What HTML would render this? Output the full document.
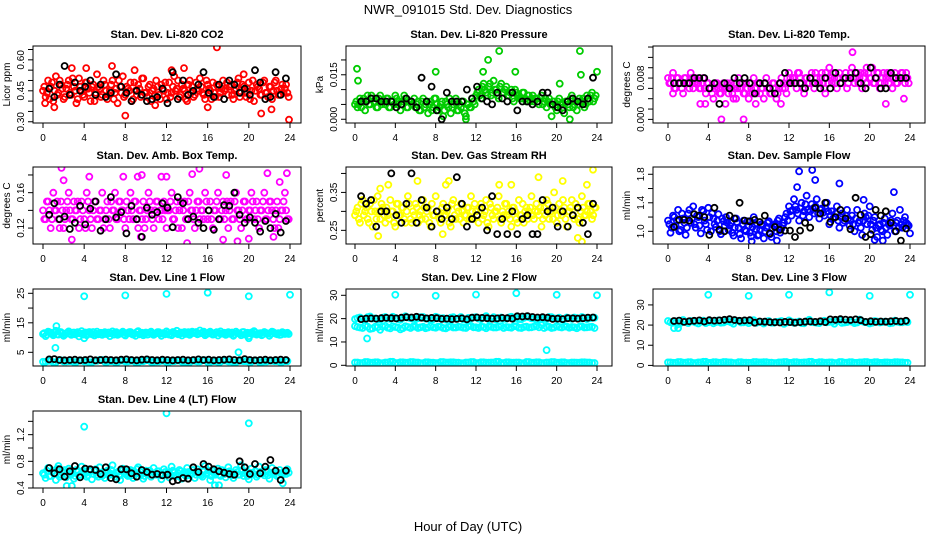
<!DOCTYPE html>
<html><head><meta charset="utf-8"><title>NWR_091015 Std. Dev. Diagnostics</title>
<style>
html,body{margin:0;padding:0;background:#fff;}
svg{display:block;font-family:"Liberation Sans",Arial,sans-serif;}
</style></head>
<body>
<svg id="chart" width="936" height="540" viewBox="0 0 936 540" xmlns="http://www.w3.org/2000/svg">
<text x="468" y="14" text-anchor="middle" font-size="13">NWR_091015  Std. Dev. Diagnostics</text>
<text x="468" y="531" text-anchor="middle" font-size="13">Hour of Day (UTC)</text>
</svg>
<script>
// ---- data ----
const xTicks = [0,4,8,12,16,20,24];
const xTickLabels = ['0','4','8','12','16','20','24'];

const co2Values = [0.45,0.42,0.50,0.47,0.40,0.52,0.44,0.48,0.41,0.46,0.50,0.43,0.47,0.39,0.51,0.45,0.42,0.49,0.44,0.47,0.40,0.53,0.46,0.43,
0.48,0.41,0.45,0.50,0.44,0.39,0.47,0.52,0.43,0.46,0.49,0.41,0.45,0.48,0.42,0.51,0.44,0.47,0.40,0.46,0.50,0.43,0.48,0.45,
0.41,0.49,0.44,0.52,0.46,0.42,0.48,0.45,0.40,0.50,0.47,0.43,0.46,0.51,0.44,0.41,0.48,0.45,0.49,0.42,0.47,0.44,0.50,0.46,
0.43,0.48,0.41,0.46,0.51,0.44,0.47,0.42,0.49,0.45,0.40,0.48,0.46,0.43,0.50,0.44,0.47,0.41,0.49,0.45,0.43,0.48,0.46,0.44];
const co2ValuesB = [0.47,0.44,0.41,0.49,0.45,0.43,0.50,0.46,0.42,0.48,0.44,0.51,0.45,0.41,0.47,0.43,0.49,0.46,0.40,0.48,0.44,0.47,0.42,0.50,
0.45,0.43,0.48,0.41,0.46,0.50,0.44,0.42,0.47,0.45,0.40,0.49,0.43,0.46,0.51,0.44,0.42,0.48,0.45,0.43,0.47,0.41,0.46,0.49,
0.44,0.42,0.47,0.45,0.50,0.43,0.46,0.41,0.48,0.44,0.42,0.49,0.45,0.47,0.43,0.50,0.46,0.41,0.44,0.48,0.42,0.46,0.45,0.49,
0.47,0.43,0.45,0.49,0.42,0.48,0.44,0.46,0.41,0.50,0.45,0.47,0.43,0.49,0.44,0.42,0.47,0.45,0.50,0.43,0.46,0.44,0.48,0.42];
const co2Outliers = [[0.2,0.39],[1.1,0.37],[2.8,0.56],[4.2,0.56],[6.7,0.57],[8.0,0.33],[8.9,0.55],[10.9,0.38],[13.7,0.56],[16.9,0.66],[16.0,0.37],[21.2,0.34],[22.2,0.36],[23.9,0.31],[12.5,0.55],[19.5,0.53]];
const co2Black = [0.46,0.42,0.48,0.57,0.43,0.49,0.45,0.47,0.50,0.43,0.48,0.42,0.44,0.53,0.47,0.44,0.40,0.45,0.43,0.40,0.41,0.42,0.46,0.39,0.54,0.41,0.50,0.43,0.45,0.48,0.54,0.44,0.42,0.48,0.41,0.50,0.48,0.44,0.46,0.43,0.55,0.49,0.41,0.42,0.54,0.43,0.51];

const presValues = [0.005,0.004,0.007,0.006,0.003,0.008,0.005,0.007,0.006,0.004,0.008,0.006,0.005,0.007,0.004,0.006,0.008,0.005,0.003,0.006,0.007,0.004,0.006,0.005,
0.004,0.006,0.003,0.007,0.005,0.002,0.006,0.004,0.007,0.003,0.005,0.001,0.006,0.004,0.002,0.005,0.007,0.003,0.004,0.006,0.001,0.005,0.004,0.006,
0.008,0.010,0.007,0.012,0.009,0.011,0.008,0.013,0.010,0.007,0.012,0.009,0.011,0.008,0.010,0.006,0.009,0.008,0.007,0.009,0.006,0.008,0.007,0.006,
0.007,0.005,0.008,0.006,0.004,0.007,0.005,0.006,0.003,0.007,0.005,0.002,0.006,0.004,0.008,0.005,0.003,0.007,0.006,0.004,0.008,0.006,0.009,0.007];
const presValuesB = [0.006,0.005,0.004,0.007,0.006,0.005,0.008,0.006,0.004,0.007,0.005,0.006,0.007,0.004,0.006,0.005,0.007,0.006,0.005,0.008,0.004,0.006,0.005,0.007,
0.005,0.003,0.006,0.004,0.006,0.005,0.003,0.007,0.005,0.004,0.006,0.003,0.005,0.007,0.004,0.006,0.003,0.005,0.006,0.002,0.005,0.004,0.007,0.005,
0.009,0.008,0.011,0.010,0.008,0.012,0.009,0.010,0.008,0.011,0.009,0.010,0.008,0.009,0.007,0.010,0.008,0.007,0.009,0.007,0.008,0.006,0.008,0.007,
0.006,0.007,0.005,0.007,0.006,0.005,0.006,0.004,0.006,0.005,0.004,0.006,0.005,0.007,0.004,0.006,0.005,0.006,0.007,0.005,0.007,0.008,0.006,0.008];
const presOutliers = [[0.3,0.013],[0.2,0.017],[12.7,0.016],[13.2,0.020],[14.3,0.023],[15.9,0.016],[22.3,0.023],[22.4,0.015],[24.0,0.016],[11.0,0.000],[19.5,0.001],[21.3,0.000],[8.0,0.016],[20.3,0.012]];
const presBlack = [0.006,0.006,0.007,0.007,0.006,0.006,0.006,0.004,0.005,0.007,0.006,0.004,0.014,0.006,0.011,0.003,0.000,0.009,0.006,0.006,0.006,0.010,0.007,0.011,0.007,0.006,0.005,0.009,0.007,0.006,0.009,0.003,0.006,0.006,0.005,0.006,0.009,0.009,0.005,0.004,0.003,0.006,0.007,0.006,0.005,0.007,0.014];

const ltempValues = [0.008,0.007,0.009,0.006,0.008,0.007,0.005,0.008,0.007,0.009,0.006,0.008,0.007,0.006,0.008,0.005,0.007,0.006,0.004,0.007,0.006,0.005,0.007,0.006,
0.005,0.007,0.006,0.004,0.008,0.006,0.005,0.007,0.004,0.006,0.008,0.005,0.007,0.006,0.004,0.008,0.006,0.005,0.007,0.004,0.006,0.008,0.007,0.005,
0.009,0.007,0.008,0.006,0.009,0.007,0.005,0.008,0.007,0.009,0.006,0.008,0.007,0.009,0.006,0.008,0.010,0.007,0.008,0.006,0.009,0.007,0.008,0.006,
0.008,0.010,0.007,0.009,0.008,0.006,0.009,0.007,0.008,0.010,0.007,0.009,0.006,0.008,0.007,0.009,0.008,0.006,0.009,0.007,0.008,0.009,0.007,0.008];
const ltempValuesB = [0.007,0.008,0.006,0.008,0.007,0.006,0.008,0.007,0.006,0.008,0.007,0.007,0.006,0.007,0.006,0.007,0.006,0.005,0.006,0.007,0.005,0.006,0.006,0.007,
0.006,0.005,0.007,0.006,0.006,0.007,0.005,0.006,0.007,0.005,0.006,0.007,0.005,0.006,0.007,0.006,0.005,0.007,0.006,0.005,0.007,0.006,0.006,0.007,
0.008,0.008,0.007,0.009,0.008,0.006,0.008,0.007,0.008,0.007,0.009,0.007,0.008,0.007,0.009,0.007,0.008,0.009,0.007,0.008,0.007,0.008,0.009,0.007,
0.009,0.008,0.008,0.007,0.009,0.008,0.007,0.009,0.008,0.007,0.008,0.009,0.007,0.009,0.008,0.007,0.009,0.008,0.007,0.008,0.009,0.008,0.009,0.007];
const ltempOutliers = [[3.2,0.003],[3.7,0.003],[5.3,0.000],[5.7,0.003],[7.5,0.000],[6.5,0.004],[8.7,0.003],[11.2,0.003],[18.3,0.013],[19.7,0.010],[21.6,0.003],[23.4,0.004],[15.6,0.005],[0.5,0.005]];
const ltempBlack = [0.007,0.007,0.007,0.007,0.008,0.008,0.008,0.006,0.007,0.003,0.007,0.006,0.008,0.007,0.008,0.007,0.005,0.007,0.007,0.006,0.005,0.007,0.009,0.007,0.007,0.007,0.006,0.008,0.007,0.006,0.008,0.006,0.009,0.007,0.008,0.008,0.009,0.007,0.006,0.010,0.008,0.006,0.006,0.009,0.008,0.008,0.008];

const btempValues = [0.14,0.13,0.15,0.12,0.16,0.14,0.13,0.15,0.12,0.14,0.16,0.13,0.15,0.14,0.12,0.15,0.13,0.16,0.14,0.12,0.15,0.13,0.14,0.16,
0.13,0.15,0.12,0.14,0.16,0.13,0.15,0.14,0.12,0.14,0.16,0.13,0.15,0.12,0.14,0.15,0.13,0.16,0.14,0.12,0.15,0.13,0.14,0.15,
0.12,0.14,0.16,0.13,0.15,0.14,0.12,0.15,0.13,0.16,0.14,0.12,0.15,0.13,0.14,0.16,0.13,0.15,0.12,0.14,0.16,0.13,0.15,0.14,
0.12,0.15,0.13,0.16,0.14,0.12,0.15,0.13,0.14,0.16,0.13,0.15,0.12,0.14,0.16,0.13,0.15,0.14,0.12,0.15,0.13,0.14,0.16,0.13];
const btempValuesB = [0.13,0.15,0.14,0.13,0.14,0.15,0.12,0.14,0.13,0.15,0.14,0.13,0.14,0.15,0.13,0.14,0.12,0.15,0.13,0.14,0.15,0.13,0.14,0.12,
0.14,0.13,0.15,0.14,0.13,0.15,0.14,0.13,0.15,0.13,0.14,0.15,0.13,0.14,0.13,0.12,0.14,0.15,0.13,0.14,0.15,0.14,0.13,0.14,
0.14,0.15,0.13,0.14,0.12,0.15,0.14,0.13,0.15,0.14,0.13,0.14,0.15,0.14,0.13,0.15,0.14,0.13,0.14,0.15,0.13,0.14,0.13,0.15,
0.14,0.13,0.15,0.14,0.13,0.14,0.15,0.13,0.14,0.15,0.14,0.13,0.14,0.15,0.13,0.14,0.15,0.13,0.14,0.12,0.14,0.15,0.14,0.13];
const btempOutliers = [[1.8,0.188],[2.0,0.174],[4.5,0.178],[7.8,0.178],[9.2,0.178],[9.6,0.180],[11.5,0.178],[12.0,0.178],[14.5,0.181],[15.2,0.187],[17.8,0.180],[21.8,0.182],[23.7,0.182],[23.0,0.172],[2.8,0.107],[9.5,0.110],[17.5,0.107],[18.9,0.105],[20.0,0.108],[14.0,0.103],[22.4,0.110]];
const btempBlack = [0.135,0.148,0.130,0.133,0.119,0.126,0.145,0.124,0.142,0.150,0.117,0.130,0.155,0.132,0.138,0.114,0.145,0.130,0.110,0.143,0.135,0.138,0.148,0.143,0.121,0.155,0.148,0.130,0.133,0.126,0.120,0.140,0.118,0.130,0.146,0.145,0.160,0.135,0.126,0.132,0.126,0.116,0.128,0.120,0.136,0.115,0.128];

const rhValues = [0.29,0.31,0.27,0.33,0.30,0.28,0.32,0.26,0.30,0.34,0.28,0.31,0.27,0.29,0.33,0.30,0.26,0.32,0.29,0.31,0.27,0.34,0.28,0.30,
0.32,0.27,0.30,0.33,0.28,0.31,0.26,0.29,0.34,0.30,0.27,0.32,0.29,0.31,0.26,0.33,0.28,0.30,0.32,0.27,0.29,0.31,0.34,0.28,
0.30,0.27,0.32,0.29,0.33,0.26,0.31,0.28,0.30,0.34,0.27,0.29,0.32,0.30,0.26,0.31,0.28,0.33,0.29,0.27,0.31,0.30,0.34,0.28,
0.32,0.29,0.26,0.31,0.33,0.28,0.30,0.35,0.27,0.32,0.29,0.31,0.26,0.30,0.33,0.28,0.31,0.27,0.34,0.29,0.30,0.32,0.28,0.31];
const rhValuesB = [0.30,0.28,0.32,0.29,0.31,0.27,0.30,0.33,0.28,0.30,0.32,0.29,0.31,0.28,0.30,0.27,0.32,0.29,0.31,0.28,0.30,0.32,0.27,0.29,
0.31,0.29,0.28,0.31,0.30,0.27,0.32,0.29,0.30,0.28,0.31,0.29,0.30,0.27,0.32,0.29,0.31,0.28,0.30,0.29,0.31,0.28,0.30,0.32,
0.29,0.31,0.28,0.30,0.27,0.32,0.29,0.30,0.31,0.28,0.30,0.32,0.29,0.28,0.31,0.30,0.27,0.29,0.32,0.30,0.28,0.31,0.29,0.30,
0.30,0.31,0.28,0.29,0.32,0.30,0.28,0.31,0.29,0.30,0.33,0.28,0.30,0.31,0.29,0.32,0.28,0.30,0.31,0.29,0.32,0.30,0.29,0.31];
const rhOutliers = [[2.5,0.36],[3.3,0.37],[6.2,0.38],[9.0,0.37],[9.3,0.38],[14.3,0.37],[15.5,0.37],[18.2,0.39],[20.6,0.38],[23.6,0.41],[23.0,0.37],[22.1,0.23],[22.5,0.22],[2.3,0.235],[8.7,0.24]];
const rhBlack = [0.34,0.32,0.33,0.26,0.30,0.30,0.40,0.29,0.27,0.32,0.40,0.27,0.33,0.31,0.26,0.30,0.28,0.31,0.28,0.39,0.32,0.26,0.28,0.29,0.31,0.25,0.34,0.24,0.28,0.24,0.30,0.24,0.28,0.29,0.24,0.24,0.33,0.30,0.31,0.26,0.30,0.26,0.29,0.31,0.27,0.24,0.32];

const flowValues = [1.15,0.98,1.22,1.08,1.30,1.02,1.18,0.95,1.25,1.12,1.35,1.05,1.20,0.97,1.28,1.10,1.33,1.00,1.18,1.06,1.24,0.96,1.14,1.20,
1.02,1.12,0.94,1.18,1.05,0.90,1.15,1.00,1.08,0.93,1.20,1.03,0.95,1.10,0.90,1.05,1.14,0.92,1.08,1.00,1.18,1.04,1.12,1.25,
1.35,1.22,1.45,1.30,1.15,1.40,1.28,1.50,1.20,1.38,1.25,1.45,1.18,1.32,1.22,1.40,1.10,1.28,1.20,1.35,1.05,1.25,1.15,1.30,
1.08,1.22,1.00,1.30,1.15,0.95,1.25,1.10,1.35,1.02,1.20,0.92,1.10,1.00,1.18,0.95,1.08,1.25,1.00,1.15,1.30,1.05,1.20,1.10];
const flowValuesB = [1.10,1.05,1.20,1.15,1.00,1.25,1.12,1.05,1.30,1.18,1.10,1.22,1.08,1.30,1.15,1.02,1.20,1.25,1.10,1.15,1.00,1.18,1.08,1.12,
1.08,0.98,1.05,1.12,0.96,1.10,1.02,1.14,0.98,1.06,1.10,0.94,1.02,1.08,1.00,1.12,0.96,1.04,1.10,1.15,0.98,1.08,1.20,1.15,
1.28,1.30,1.35,1.25,1.32,1.22,1.38,1.30,1.28,1.32,1.35,1.25,1.30,1.26,1.32,1.28,1.22,1.18,1.25,1.15,1.20,1.12,1.22,1.18,
1.15,1.10,1.18,1.12,1.05,1.15,1.20,1.22,1.10,1.15,1.05,1.08,1.02,1.12,1.05,1.10,1.15,1.08,1.12,1.05,1.10,1.15,1.12,1.08];
const flowOutliers = [[13.0,1.84],[14.3,1.86],[14.6,1.72],[17.0,1.67],[12.8,1.62],[22.4,1.55],[19.4,1.44],[8.3,0.86],[10.8,0.87],[20.5,0.88],[24.0,0.97],[21.3,0.87]];
const flowBlack = [1.06,1.16,1.16,1.15,1.24,1.22,1.20,0.95,1.33,1.02,1.00,1.22,1.18,1.40,1.15,1.14,1.16,1.13,1.22,0.97,1.06,1.02,1.01,1.01,0.92,1.01,1.12,1.05,1.33,1.25,1.40,1.13,1.20,1.30,1.18,1.03,1.47,1.23,0.92,0.96,1.30,1.22,1.28,1.12,1.00,0.87,1.04];

const line1High = [11.2,10.5,12.0,11.6,10.8,12.3,11.0,11.8,10.6,11.4,12.1,10.9,11.7,11.3,10.4,12.2,11.5,10.8,11.9,11.1,10.7,12.0,11.4,10.9,
11.8,11.2,10.5,12.1,11.6,10.9,11.3,12.0,10.7,11.5,11.9,11.0,10.6,12.2,11.4,10.8,11.7,11.1,12.0,10.9,11.5,11.8,10.6,11.3,
12.1,11.0,10.8,11.6,12.3,11.2,10.7,11.9,11.4,10.9,12.0,11.5,11.1,12.4,11.7,10.8,11.3,12.0,11.0,11.6,10.7,12.1,11.4,10.9,
11.8,11.2,10.6,12.0,11.5,10.8,11.9,11.1,10.5,11.7,12.2,11.0,11.4,10.8,11.9,11.3,10.6,12.0,11.5,11.1,10.9,11.8,11.2,11.6];
const line1HighB = [11.5,11.0,11.8,11.2,11.6,11.1,11.9,11.4,11.0,11.7,11.3,11.6,11.1,11.8,11.4,11.0,11.7,11.2,11.5,11.9,11.3,11.1,11.6,11.4,
11.2,11.7,11.4,11.0,11.8,11.3,11.6,11.1,11.5,11.8,11.2,11.4,11.9,11.1,11.6,11.3,11.0,11.7,11.4,11.2,11.8,11.3,11.5,11.1,
11.6,11.3,11.9,11.4,11.1,11.7,11.5,11.2,11.8,11.4,11.6,11.9,11.3,11.5,12.0,11.2,11.7,11.4,11.1,11.8,11.5,11.3,11.6,11.2,
11.4,11.7,11.1,11.5,11.3,11.8,11.0,11.6,11.4,11.2,11.7,11.3,11.5,11.1,11.6,11.4,11.2,11.8,11.3,11.5,11.0,11.6,11.4,11.2];
const line1Low = [1.8,2.1,1.6,2.3,1.9,2.0,1.7,2.2,1.9,1.6,2.1,2.4,1.8,2.0,1.7,2.2,1.9,2.1,1.6,2.0,2.3,1.8,1.9,2.1,1.7,2.0,2.2,1.8,1.6,2.1,1.9,2.3,1.7,2.0,1.8,2.2,1.9,1.6,2.1,2.0,1.8,2.2,1.7,1.9,2.1,2.0,1.8,2.0];
const line1Outliers = [[4.0,24],[8.0,24.3],[12.0,24.8],[16.0,25.2],[20.0,24],[24.0,24.5],[1.2,6.5],[1.3,13.9],[19.0,5],[20.0,9.8],[4.0,9.8]];
const line1Black = [2.6,2.7,2.4,2.3,2.4,2.5,2.3,2.4,2.6,2.3,2.4,2.5,2.4,2.3,2.5,2.6,2.4,2.3,2.5,2.6,2.4,2.3,2.5,2.4,2.3,2.4,2.5,2.3,2.4,2.6,2.4,2.5,2.3,2.4,2.5,2.6,2.4,2.3,2.7,2.4,2.3,2.4,2.5,2.3,2.4,2.5,2.4];

const line2High = [19.8,20.5,19.4,20.9,20.1,19.6,20.7,19.9,20.3,19.5,21.0,20.2,19.7,20.6,20.0,19.4,20.8,20.1,19.6,20.4,19.9,20.7,19.5,20.2,20.6,19.8,21.1,20.0,19.6,20.5,19.9,20.8,20.3,19.7,20.9,20.1,19.5,20.4,19.8,20.6,20.0,19.7,20.5,19.9,20.2,20.7,19.8,20.3];
const line2HighB = [20.2,19.9,20.6,20.0,19.7,20.4,20.1,20.8,19.8,20.3,20.5,19.9,20.2,20.7,20.0,19.8,20.4,20.2,19.9,20.6,20.1,19.7,20.3,20.5,20.0,20.4,19.8,20.6,20.2,19.9,20.5,20.1,19.8,20.3,20.6,20.0,20.2,19.9,20.7,20.1,20.4,19.8,20.2,20.5,20.0,20.3,20.1,20.4];
const line2Mid = [16.8,16.2,17.0,15.6,16.5,15.2,16.9,15.8,16.4,15.4,16.7,16.0,16.6,16.3,15.9,16.8,16.1,16.5,15.8,16.7,16.2,16.4,16.0,16.9,16.3,16.6,15.9,16.5,16.2,16.8,16.4,16.1,16.7,16.0,16.6,16.3,16.9,17.2,16.5,16.0,16.8,16.2,16.6,16.4,15.9,16.7,16.3,16.5];
const line2MidB = [16.4,16.0,16.6,15.8,16.3,16.5,16.1,16.7,16.2,15.9,16.4,16.6,16.0,16.5,16.2,16.3,16.6,16.0,16.4,16.2,16.5,16.1,16.7,16.3,16.0,16.4,16.6,16.2,16.5,16.0,16.3,16.7,16.1,16.4,16.2,16.6,16.3,16.0,16.5,16.2,16.4,16.6,16.1,16.3,16.5,16.2,16.4,16.0];
const line2Low = [1.2,1.0,1.4,1.1,1.3,0.9,1.2,1.5,1.0,1.3,1.1,1.4,1.2,0.9,1.3,1.1,1.0,1.4,1.2,1.3,1.1,0.9,1.2,1.4,1.0,1.3,1.1,1.2,1.5,1.0,1.3,1.1,1.2,0.9,1.4,1.1,1.3,1.0,1.2,1.4,1.1,1.3,1.0,1.2,1.1,1.3,1.2,1.0];
const line2Outliers = [[4.0,30.2],[8.0,29.8],[12.0,30.3],[16.0,30.9],[20.0,30.2],[24.0,30],[1.2,11.5],[19.0,6.5]];
const line2Black = [19.8,20.0,20.1,20.0,20.2,20.3,20.2,20.1,20.4,20.6,20.5,20.8,20.4,20.1,20.3,20.2,19.9,20.0,19.8,19.9,20.1,19.7,20.4,20.5,20.3,20.2,20.0,20.1,20.3,20.2,20.0,21.0,20.9,21.1,20.7,20.5,20.6,20.4,19.9,20.0,19.8,20.2,20.1,20.0,20.2,20.4,20.5];

const line3High = [22.0,21.2,20.5,22.5,21.0,21.8,20.8,22.2,21.5,20.9,22.3,21.3,21.9,20.7,22.1,21.4,21.0,22.4,21.6,20.8,22.0,21.2,21.7,20.6,22.3,21.1,21.8,20.9,22.6,21.4,21.0,22.1,21.6,20.7,22.4,21.3,21.9,21.0,22.7,21.5,20.8,22.0,21.3,21.7,20.9,22.2,21.4,21.8];
const line3HighB = [21.4,21.9,21.1,21.6,22.0,21.3,21.7,21.0,21.8,21.5,21.2,21.9,21.4,22.1,21.3,21.6,21.9,21.1,21.5,21.8,21.2,21.6,22.0,21.3,21.7,21.4,21.0,21.9,21.5,21.2,21.8,21.4,21.6,22.0,21.1,21.5,21.7,21.3,21.9,21.4,21.2,21.8,21.5,21.6,21.1,21.7,21.4,21.5];
const line3Low = [1.5,1.3,1.7,1.4,1.6,1.2,1.5,1.8,1.3,1.6,1.4,1.7,1.5,1.2,1.6,1.4,1.3,1.7,1.5,1.6,1.4,1.2,1.5,1.7,1.3,1.6,1.4,1.5,1.8,1.3,1.6,1.4,1.5,1.2,1.7,1.4,1.6,1.3,1.5,1.7,1.4,1.6,1.3,1.5,1.4,1.6,1.5,1.3];
const line3Outliers = [[4.0,35],[8.0,34.5],[12.0,35],[16.0,36.2],[20.0,34.5],[24.0,35],[0.6,18.5],[1.0,18.5]];
const line3Black = [22.0,22.2,21.6,21.9,22.1,22.3,21.8,22.4,22.2,22.3,22.6,22.9,22.5,22.1,22.3,22.4,21.2,21.8,21.7,21.5,21.4,21.3,21.6,21.5,21.2,21.5,21.7,21.8,21.6,21.9,21.5,22.8,22.6,22.9,22.7,22.5,22.8,22.4,21.6,21.9,21.6,21.8,21.7,21.9,22.0,21.8,22.1];

const line4Values = [0.62,0.55,0.70,0.58,0.66,0.52,0.73,0.60,0.64,0.56,0.69,0.61,0.54,0.67,0.59,0.72,0.63,0.57,0.68,0.53,0.65,0.60,0.71,0.58,
0.55,0.66,0.62,0.74,0.57,0.64,0.52,0.69,0.61,0.58,0.67,0.55,0.63,0.71,0.59,0.54,0.66,0.62,0.57,0.70,0.60,0.65,0.53,0.68,
0.61,0.56,0.72,0.63,0.58,0.67,0.54,0.64,0.70,0.59,0.62,0.55,0.68,0.61,0.57,0.73,0.63,0.52,0.66,0.60,0.69,0.58,0.64,0.56,
0.71,0.62,0.55,0.67,0.60,0.74,0.58,0.65,0.53,0.69,0.61,0.57,0.72,0.63,0.59,0.66,0.54,0.70,0.62,0.58,0.67,0.60,0.64,0.68];
const line4ValuesB = [0.60,0.66,0.58,0.64,0.61,0.69,0.57,0.63,0.67,0.59,0.62,0.65,0.58,0.64,0.60,0.66,0.62,0.59,0.65,0.61,0.68,0.57,0.63,0.60,
0.64,0.59,0.67,0.61,0.62,0.58,0.66,0.63,0.60,0.65,0.59,0.62,0.68,0.61,0.64,0.58,0.63,0.66,0.60,0.62,0.65,0.59,0.61,0.64,
0.63,0.60,0.66,0.59,0.62,0.65,0.61,0.58,0.64,0.62,0.67,0.60,0.63,0.59,0.65,0.61,0.66,0.58,0.62,0.64,0.60,0.67,0.61,0.63,
0.65,0.59,0.62,0.64,0.60,0.66,0.62,0.58,0.63,0.61,0.65,0.60,0.64,0.62,0.67,0.59,0.63,0.61,0.66,0.60,0.62,0.64,0.61,0.63];
const line4Outliers = [[4.0,1.32],[12.0,1.52],[20.0,1.37],[2.3,0.43],[2.8,0.43],[16.7,0.44],[23.3,0.47],[17.1,0.44]];
const line4Black = [0.70,0.62,0.68,0.57,0.65,0.73,0.56,0.69,0.68,0.67,0.61,0.71,0.55,0.53,0.68,0.68,0.62,0.57,0.67,0.64,0.60,0.61,0.59,0.60,0.50,0.52,0.55,0.54,0.71,0.64,0.76,0.72,0.68,0.65,0.63,0.61,0.60,0.80,0.71,0.61,0.76,0.62,0.72,0.82,0.66,0.52,0.66];

const yTicksCo2 = [0.30,0.35,0.40,0.45,0.50,0.55,0.60,0.65];
const yLabelsCo2 = ['0.30','','','0.45','','','0.60',''];
const yTicksPres = [0,0.005,0.010,0.015,0.020];
const yLabelsPres = ['0.000','','','0.015',''];
const yTicksLtemp = [0,0.002,0.004,0.006,0.008,0.010,0.012,0.014];
const yLabelsLtemp = ['0.000','','','','0.008','','',''];
const yTicksBtemp = [0.12,0.14,0.16,0.18];
const yLabelsBtemp = ['0.12','','0.16',''];
const yTicksRh = [0.25,0.30,0.35,0.40];
const yLabelsRh = ['0.25','','0.35',''];
const yTicksFlow = [1.0,1.2,1.4,1.6,1.8];
const yLabelsFlow = ['1.0','','1.4','','1.8'];
const yTicksL1 = [5,10,15,20,25];
const yLabelsL1 = ['5','','15','','25'];
const yTicksL2 = [0,10,20,30];
const yLabelsL2 = ['0','10','20','30'];
const yTicksL3 = [0,10,20,30];
const yLabelsL3 = ['0','10','20','30'];
const yTicksL4 = [0.4,0.6,0.8,1.0,1.2,1.4];
const yLabelsL4 = ['0.4','','0.8','','1.2',''];

// ---- layout ----
const COLS = [{l:33,r:301,x0:43,x24:290},{l:346,r:612,x0:355,x24:597},{l:653,r:925,x0:668,x24:910}];
const ROWS = [46,167,289,411];
const BOX_H = 77;
const BLACK_START = 0.6, BLACK_STEP = 0.5;

const panels = [
 {name:'co2',col:0,row:0,title:'Stan. Dev. Li-820 CO2',ylab:'Licor ppm',ymin:0.294,ymax:0.667,ticks:yTicksCo2,labels:yLabelsCo2,color:'#ff0000',series:[co2Values],seriesB:[co2ValuesB],out:co2Outliers,black:co2Black},
 {name:'pressure',col:1,row:0,title:'Stan. Dev. Li-820 Pressure',ylab:'kPa',ymin:-0.00126,ymax:0.0247,ticks:yTicksPres,labels:yLabelsPres,color:'#00cc00',series:[presValues],seriesB:[presValuesB],out:presOutliers,black:presBlack},
 {name:'licor-temp',col:2,row:0,title:'Stan. Dev. Li-820 Temp.',ylab:'degrees C',ymin:-0.0007,ymax:0.0142,ticks:yTicksLtemp,labels:yLabelsLtemp,color:'#ff00ff',series:[ltempValues],seriesB:[ltempValuesB],out:ltempOutliers,black:ltempBlack},
 {name:'box-temp',col:0,row:1,title:'Stan. Dev. Amb. Box Temp.',ylab:'degrees C',ymin:0.102,ymax:0.189,ticks:yTicksBtemp,labels:yLabelsBtemp,color:'#ff00ff',series:[btempValues],seriesB:[btempValuesB],out:btempOutliers,black:btempBlack},
 {name:'gas-rh',col:1,row:1,title:'Stan. Dev. Gas Stream RH',ylab:'percent',ymin:0.214,ymax:0.417,ticks:yTicksRh,labels:yLabelsRh,color:'#ffff00',series:[rhValues],seriesB:[rhValuesB],out:rhOutliers,black:rhBlack},
 {name:'sample-flow',col:2,row:1,title:'Stan. Dev. Sample Flow',ylab:'ml/min',ymin:0.822,ymax:1.902,ticks:yTicksFlow,labels:yLabelsFlow,color:'#0000ff',series:[flowValues],seriesB:[flowValuesB],out:flowOutliers,black:flowBlack},
 {name:'line1-flow',col:0,row:2,title:'Stan. Dev. Line 1 Flow',ylab:'ml/min',ymin:0.36,ymax:26.46,ticks:yTicksL1,labels:yLabelsL1,color:'#00ffff',series:[line1High,line1Low],seriesB:[line1HighB,line1Low],out:line1Outliers,black:line1Black},
 {name:'line2-flow',col:1,row:2,title:'Stan. Dev. Line 2 Flow',ylab:'ml/min',ymin:-0.3,ymax:32.7,ticks:yTicksL2,labels:yLabelsL2,color:'#00ffff',series:[line2High,line2Mid,line2Low],seriesB:[line2HighB,line2MidB,line2Low],out:line2Outliers,black:line2Black},
 {name:'line3-flow',col:2,row:2,title:'Stan. Dev. Line 3 Flow',ylab:'ml/min',ymin:-0.3,ymax:37.9,ticks:yTicksL3,labels:yLabelsL3,color:'#00ffff',series:[line3High,line3Low],seriesB:[line3HighB,line3Low],out:line3Outliers,black:line3Black},
 {name:'line4-flow',col:0,row:3,title:'Stan. Dev. Line 4 (LT) Flow',ylab:'ml/min',ymin:0.4,ymax:1.555,ticks:yTicksL4,labels:yLabelsL4,color:'#00ffff',series:[line4Values],seriesB:[line4ValuesB],out:line4Outliers,black:line4Black}
];

const NS = 'http://www.w3.org/2000/svg';
const svg = document.getElementById('chart');
function mk(tag, attrs, parent){
  const e = document.createElementNS(NS, tag);
  for (const k in attrs) e.setAttribute(k, attrs[k]);
  (parent||svg).appendChild(e);
  return e;
}

panels.forEach(p => {
  const c = COLS[p.col];
  const top = ROWS[p.row], bot = top + BOX_H;
  const xs = h => c.x0 + (c.x24 - c.x0) * h / 24;
  const ys = v => bot - (v - p.ymin) / (p.ymax - p.ymin) * BOX_H;

  const g = mk('g', {});
  
  

  const title = mk('text', {x:(c.l+c.r)/2, y:top-8, 'text-anchor':'middle', 'font-size':'11', 'font-weight':'bold'}, g);
  title.textContent = p.title;
  
  

  const cid = 'clip-' + p.name;
  const cp = mk('clipPath', {id:cid}, g);
  mk('rect', {x:c.l, y:top, width:c.r-c.l, height:BOX_H}, cp);
  const pts = mk('g', {'clip-path':'url(#'+cid+')', fill:'none', 'stroke-width':'1.8'}, g);
  
  

  function drawSeries(list, half){
    list.forEach(arr => {
      const step = 24 / arr.length;
      const start = half ? step / 2 : 0;
      arr.forEach((v, i) => {
        const ci = mk('circle', {cx:xs(start + i*step).toFixed(1), cy:ys(v).toFixed(1), r:'3', stroke:p.color}, pts);
        
        
      });
    });
  }
  drawSeries(p.series, false);
  drawSeries(p.seriesB, true);
  p.out.forEach(o => {
    const ci = mk('circle', {cx:xs(o[0]).toFixed(1), cy:ys(o[1]).toFixed(1), r:'3', stroke:p.color}, pts);
    
    
  });
  p.black.forEach((v, i) => {
    const ci = mk('circle', {cx:xs(BLACK_START + i*BLACK_STEP).toFixed(1), cy:ys(v).toFixed(1), r:'3', stroke:'#000'}, pts);
    
    
  });

  const box = mk('rect', {x:c.l, y:top, width:c.r-c.l, height:BOX_H, fill:'none', stroke:'#000', 'stroke-width':'1'}, g);
  
  

  const xa = mk('g', {stroke:'#000', 'stroke-width':'1'}, g);
  
  
  xTicks.forEach((t, i) => {
    const x = xs(t);
    mk('line', {x1:x, y1:bot, x2:x, y2:bot+5}, xa);
    const tl = mk('text', {x:x, y:bot+18, 'text-anchor':'middle', 'font-size':'10', stroke:'none', fill:'#000'}, xa);
    tl.textContent = xTickLabels[i];
    
    
  });

  const ya = mk('g', {stroke:'#000', 'stroke-width':'1'}, g);
  
  
  p.ticks.forEach((t, i) => {
    const y = ys(t);
    mk('line', {x1:c.l-5, y1:y, x2:c.l, y2:y}, ya);
    if (p.labels[i]) {
      const tl = mk('text', {x:c.l-9, y:y, 'text-anchor':'middle', 'font-size':'10', stroke:'none', fill:'#000', transform:'rotate(-90 '+(c.l-9)+' '+y+')'}, ya);
      tl.textContent = p.labels[i];
      
      
    }
  });
  const yt = mk('text', {x:c.l-23, y:(top+bot)/2, 'text-anchor':'middle', 'font-size':'10', transform:'rotate(-90 '+(c.l-23)+' '+((top+bot)/2)+')'}, g);
  yt.textContent = p.ylab;
  
  
});
</script>
</body></html>
